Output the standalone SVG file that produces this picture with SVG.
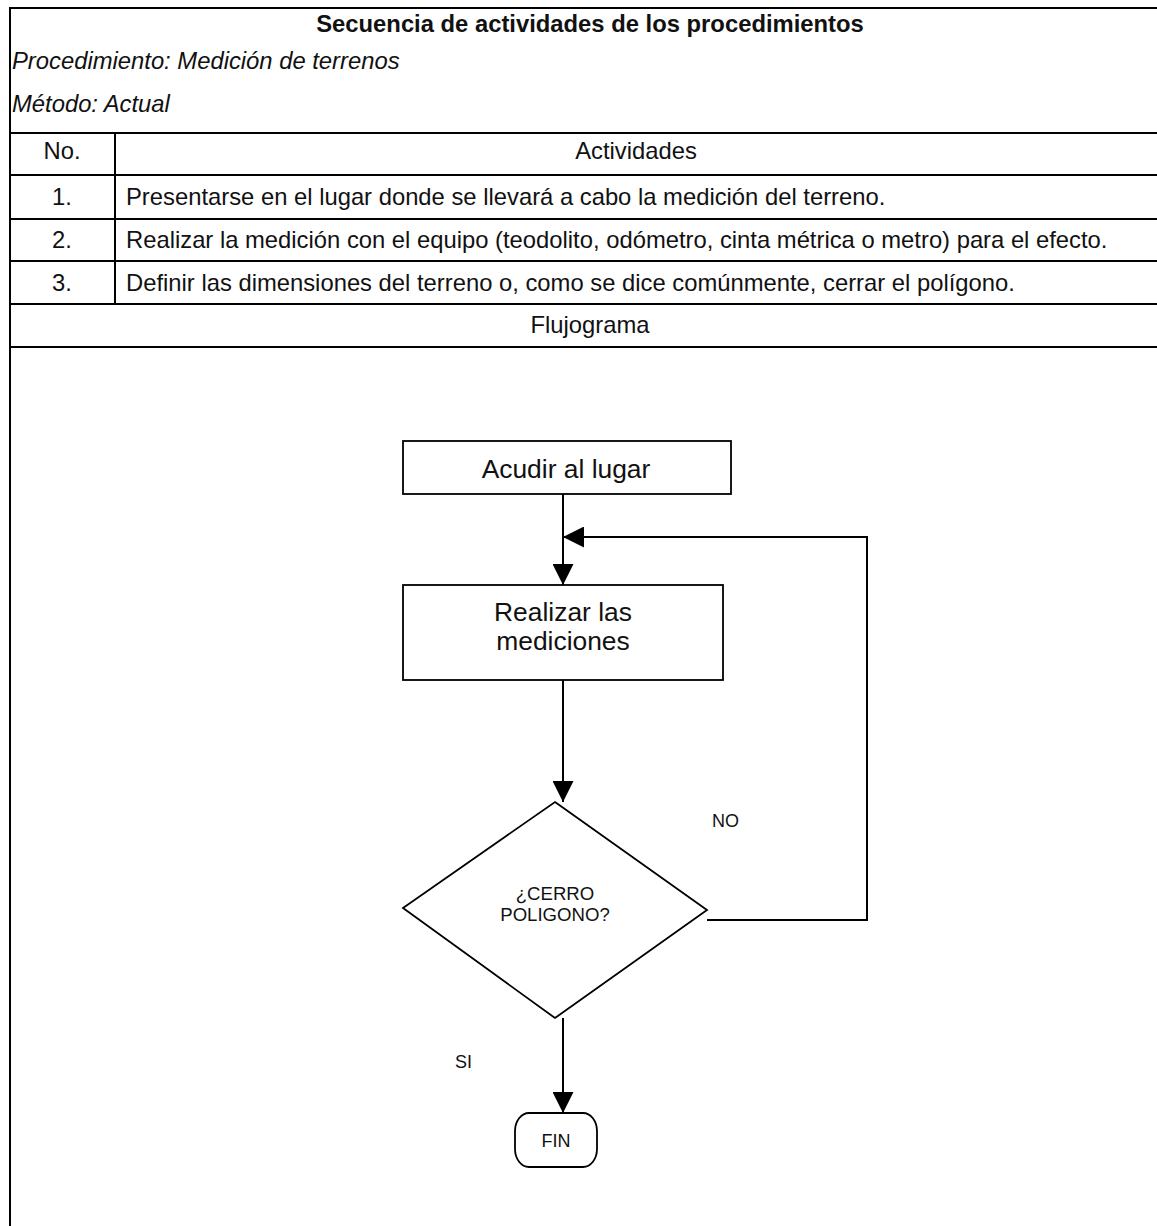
<svg xmlns="http://www.w3.org/2000/svg" width="1157" height="1226" viewBox="0 0 1157 1226">
  <style>
    .grid { stroke: #000; stroke-width: 2; fill: none; }
    .t { font-family: "Liberation Sans", Arial, sans-serif; fill: #111; }
    .cell { font-size: 23.8px; }
    .title { font-size: 23.8px; font-weight: bold; }
    .it { font-size: 23.8px; font-style: italic; }
    .node { fill: #fff; stroke: #000; stroke-width: 1.8; }
    .lbl { font-size: 26.4px; }
    .small { font-size: 18px; }
    .dec { font-size: 18.6px; }
    .conn { stroke: #000; stroke-width: 2; fill: none; }
  </style>
  <defs>
    <marker id="arrow" markerUnits="userSpaceOnUse" markerWidth="21" markerHeight="21" viewBox="0 0 21 21" refX="21" refY="10.5" orient="auto">
      <path d="M0,0 L21,10.5 L0,21 Z" fill="#000"/>
    </marker>
  </defs>
  <rect width="1157" height="1226" fill="#fff"/>

  <!-- table frame and its cells -->
  <g id="table">
    <path class="grid" d="M10,1226 V8 H1157 M10,133 H1157 M10,175 H1157 M10,219 H1157 M10,261 H1157 M10,304 H1157 M10,347 H1157 M115,133 V304"/>
    <text class="t title" x="590" y="32" text-anchor="middle">Secuencia de actividades de los procedimientos</text>
    <text class="t it" x="12" y="69">Procedimiento: Medición de terrenos</text>
    <text class="t it" x="12" y="112">Método: Actual</text>
    <text class="t cell" x="62" y="159" text-anchor="middle">No.</text>
    <text class="t cell" x="636" y="159" text-anchor="middle">Actividades</text>
    <text class="t cell" x="62" y="205" text-anchor="middle">1.</text>
    <text class="t cell" x="126" y="205">Presentarse en el lugar donde se llevará a cabo la medición del terreno.</text>
    <text class="t cell" x="62" y="248" text-anchor="middle">2.</text>
    <text class="t cell" x="126" y="248">Realizar la medición con el equipo (teodolito, odómetro, cinta métrica o metro) para el efecto.</text>
    <text class="t cell" x="62" y="291" text-anchor="middle">3.</text>
    <text class="t cell" x="126" y="291">Definir las dimensiones del terreno o, como se dice comúnmente, cerrar el polígono.</text>
    <text class="t cell" x="590" y="333" text-anchor="middle">Flujograma</text>
  </g>

  <!-- flow connectors and their labels -->
  <g id="connectors">
    <path class="conn" d="M563,494 V585" marker-end="url(#arrow)"/>
    <path class="conn" d="M563,680 V802" marker-end="url(#arrow)"/>
    <path class="conn" d="M707,920 H867 V537 H563" marker-end="url(#arrow)"/>
    <path class="conn" d="M563,1018 V1113" marker-end="url(#arrow)"/>
    <text class="t small" x="712" y="827">NO</text>
    <text class="t small" x="455" y="1068">SI</text>
  </g>

  <g id="acudir">
    <rect class="node" x="403" y="441" width="328" height="53"/>
    <text class="t lbl" x="566" y="478" text-anchor="middle">Acudir al lugar</text>
  </g>

  <g id="realizar">
    <rect class="node" x="403" y="585" width="320" height="95"/>
    <text class="t lbl" x="563" y="621" text-anchor="middle">Realizar las</text>
    <text class="t lbl" x="563" y="650" text-anchor="middle">mediciones</text>
  </g>

  <g id="cerro">
    <path class="node" d="M555,802 L707,910 L555,1018 L403,908 Z"/>
    <text class="t dec" x="555" y="900" text-anchor="middle">¿CERRO</text>
    <text class="t dec" x="555" y="921" text-anchor="middle">POLIGONO?</text>
  </g>

  <g id="fin">
    <rect class="node" x="515" y="1113" width="82" height="54" rx="14" ry="18"/>
    <text class="t small" x="556" y="1147" text-anchor="middle">FIN</text>
  </g>
</svg>
